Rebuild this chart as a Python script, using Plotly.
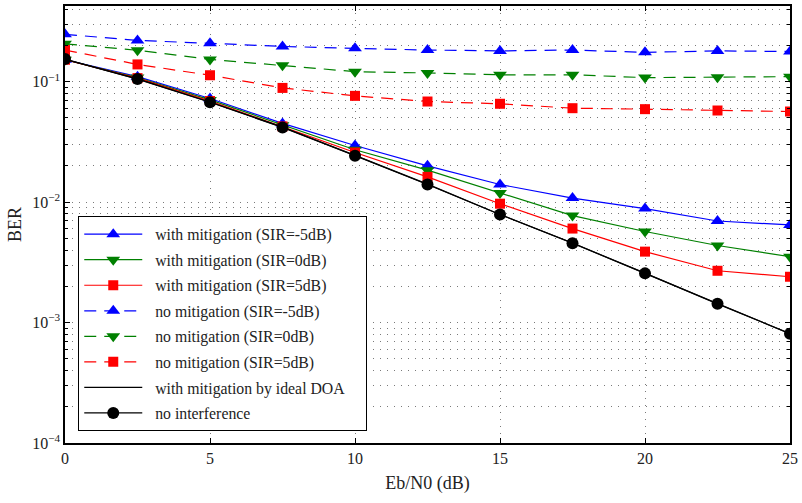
import plotly.graph_objects as go

ebn0 = [0, 2.5, 5, 7.5, 10, 12.5, 15, 17.5, 20, 22.5, 25]

with_mit_m5 = [0.152, 0.110, 0.0724, 0.0450, 0.0295, 0.0200, 0.0140, 0.0108, 0.00883, 0.00697, 0.00646]
with_mit_0 = [0.152, 0.108, 0.0705, 0.0435, 0.0272, 0.0184, 0.0119, 0.00773, 0.00570, 0.00436, 0.00352]
with_mit_5 = [0.152, 0.107, 0.0690, 0.0425, 0.0258, 0.0162, 0.0097, 0.00603, 0.00388, 0.00269, 0.00240]
no_mit_m5 = [0.247, 0.220, 0.208, 0.196, 0.189, 0.183, 0.180, 0.183, 0.175, 0.180, 0.178]
no_mit_0 = [0.206, 0.182, 0.153, 0.137, 0.121, 0.118, 0.114, 0.114, 0.108, 0.109, 0.110]
no_mit_5 = [0.183, 0.139, 0.113, 0.0887, 0.0762, 0.0684, 0.0655, 0.0602, 0.0591, 0.0576, 0.0565]
ideal_doa = [0.153, 0.1055, 0.0678, 0.0419, 0.0244, 0.0141, 0.0079, 0.00457, 0.00257, 0.00143, 0.000810]
no_interf = [0.154, 0.105, 0.0675, 0.0417, 0.0243, 0.0140, 0.0079, 0.00456, 0.00256, 0.00143, 0.000807]

x_ticks = [0, 5, 10, 15, 20, 25]
y_ticks = [1e-4, 1e-3, 1e-2, 1e-1]
y_ticktext = ["10<sup>−4</sup>", "10<sup>−3</sup>", "10<sup>−2</sup>", "10<sup>−1</sup>"]

BLUE, GREEN, RED, BLACK = "#0000ff", "#008000", "#ff0000", "#000000"
DASH = "12px,8px"

series = [
    ("with mitigation (SIR=-5dB)", with_mit_m5, BLUE, "solid", "triangle-up", 12),
    ("with mitigation (SIR=0dB)", with_mit_0, GREEN, "solid", "triangle-down", 12),
    ("with mitigation (SIR=5dB)", with_mit_5, RED, "solid", "square", 10),
    ("no mitigation (SIR=-5dB)", no_mit_m5, BLUE, DASH, "triangle-up", 12),
    ("no mitigation (SIR=0dB)", no_mit_0, GREEN, DASH, "triangle-down", 12),
    ("no mitigation (SIR=5dB)", no_mit_5, RED, DASH, "square", 10),
    ("with mitigation by ideal DOA", ideal_doa, BLACK, "solid", None, 0),
    ("no interference", no_interf, BLACK, "solid", "circle", 12),
]

fig = go.Figure()
for i, (name, ys, color, dash, sym, size) in enumerate(series):
    label = "\u2002" + name + "\u2003"
    if sym is None:
        fig.add_trace(go.Scatter(x=ebn0, y=ys, name=label, mode="lines",
                                 legendgroup=f"g{i}",
                                 line=dict(color=color, width=1.2, dash=dash)))
    else:
        fig.add_trace(go.Scatter(x=ebn0, y=ys, name=label, mode="lines+markers",
                                 legendgroup=f"g{i}",
                                 line=dict(color=color, width=1.2, dash=dash),
                                 marker=dict(symbol=sym, size=size, color=color,
                                             line=dict(width=0))))

minor_y = [m * 10 ** e for e in (-4, -3, -2, -1) for m in range(2, 10)]
minor_y = [v for v in minor_y if v <= 0.42]

grid_col = "#7a7a7a"
font_family = "Liberation Serif"

fig.update_layout(
    width=802, height=503,
    margin=dict(l=65, r=12, t=4, b=60),
    paper_bgcolor="white", plot_bgcolor="white",
    font=dict(family=font_family, size=16, color="#222222"),
    showlegend=True,
    legend=dict(x=0.018, y=0.519, xanchor="left", yanchor="top",
                bgcolor="white", bordercolor="black", borderwidth=1.2,
                font=dict(family=font_family, size=15.8, color="#222222"),
                itemwidth=58, tracegroupgap=2, traceorder="grouped"),
    xaxis=dict(
        range=[0, 25], tickvals=x_ticks,
        showline=True, linecolor="black", linewidth=1.5, mirror="allticks",
        ticks="inside", ticklen=5, tickcolor="black",
        showgrid=True, gridcolor=grid_col, griddash="1px,6px", gridwidth=1,
        zeroline=False,
        title=dict(text="Eb/N0 (dB)", standoff=10, font=dict(size=18)),
    ),
    yaxis=dict(
        type="log", range=[-4, -0.372],
        tickvals=y_ticks, ticktext=y_ticktext,
        showline=True, linecolor="black", linewidth=1.5, mirror="allticks",
        ticks="inside", ticklen=5, tickcolor="black",
        showgrid=True, gridcolor=grid_col, griddash="1px,6px", gridwidth=1,
        zeroline=False,
        minor=dict(tickvals=minor_y, ticks="inside", ticklen=3, tickcolor="black",
                   showgrid=True, gridcolor=grid_col, griddash="1px,6px", gridwidth=1),
        title=dict(text="BER", standoff=6, font=dict(size=18)),
    ),
)

fig.write_html("out.html")
